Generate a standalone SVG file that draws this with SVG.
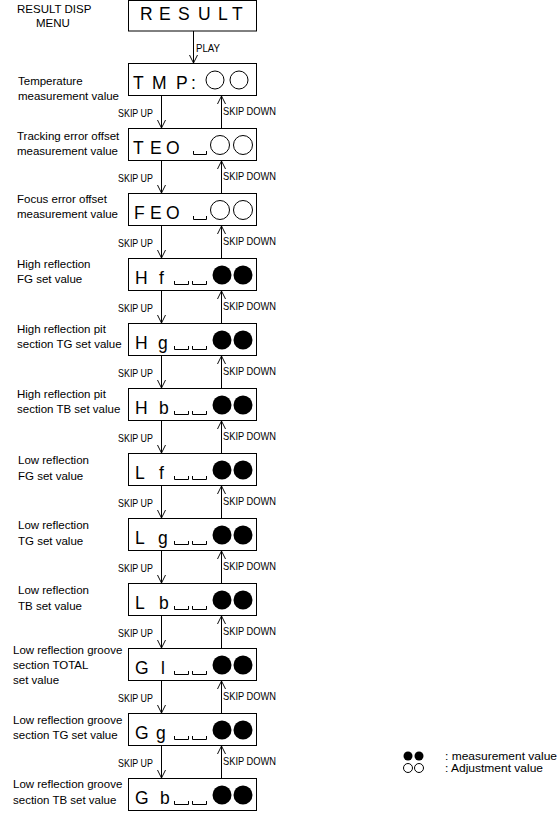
<svg xmlns="http://www.w3.org/2000/svg" width="558" height="819" viewBox="0 0 558 819">
<defs>
<style>
text{font-family:"Liberation Sans",Arial,sans-serif;fill:#000}
.lbl{font-size:11.5px}
.sk{font-size:11px}
.bx{font-size:17.5px}
.frame{fill:#fff;stroke:#000;stroke-width:1}
.br{fill:none;stroke:#000;stroke-width:1}
.oc{fill:#fff;stroke:#000;stroke-width:1}
.fc{fill:#000}
.ln{fill:none;stroke:#000;stroke-width:1;marker-end:url(#ah)}
</style>
<marker id="ah" viewBox="0 0 10 10" refX="10" refY="5" markerWidth="8" markerHeight="9" markerUnits="userSpaceOnUse" orient="auto">
<path d="M0,0 L10,5 L0,10" fill="none" stroke="#000" stroke-width="1.2"/>
</marker>
</defs>
<rect width="558" height="819" fill="#fff"/>

<g id="connectors">
<path class="ln" d="M193.5 31 V63"/>
<text class="sk" x="196" y="52" textLength="24" lengthAdjust="spacingAndGlyphs">PLAY</text>
<path class="ln" d="M161.5 96 V128"/><path class="ln" d="M221.5 128 V96"/>
<path class="ln" d="M161.5 161 V193"/><path class="ln" d="M221.5 193 V161"/>
<path class="ln" d="M161.5 226 V258"/><path class="ln" d="M221.5 258 V226"/>
<path class="ln" d="M161.5 291 V323"/><path class="ln" d="M221.5 323 V291"/>
<path class="ln" d="M161.5 356 V388"/><path class="ln" d="M221.5 388 V356"/>
<path class="ln" d="M161.5 421 V453"/><path class="ln" d="M221.5 453 V421"/>
<path class="ln" d="M161.5 486 V518"/><path class="ln" d="M221.5 518 V486"/>
<path class="ln" d="M161.5 551 V583"/><path class="ln" d="M221.5 583 V551"/>
<path class="ln" d="M161.5 616 V648"/><path class="ln" d="M221.5 648 V616"/>
<path class="ln" d="M161.5 681 V713"/><path class="ln" d="M221.5 713 V681"/>
<path class="ln" d="M161.5 746 V778"/><path class="ln" d="M221.5 778 V746"/>
<g class="sk">
<text x="118" y="117" textLength="35" lengthAdjust="spacingAndGlyphs">SKIP UP</text><text x="223" y="115" textLength="53" lengthAdjust="spacingAndGlyphs">SKIP DOWN</text>
<text x="118" y="182" textLength="35" lengthAdjust="spacingAndGlyphs">SKIP UP</text><text x="223" y="180" textLength="53" lengthAdjust="spacingAndGlyphs">SKIP DOWN</text>
<text x="118" y="247" textLength="35" lengthAdjust="spacingAndGlyphs">SKIP UP</text><text x="223" y="245" textLength="53" lengthAdjust="spacingAndGlyphs">SKIP DOWN</text>
<text x="118" y="312" textLength="35" lengthAdjust="spacingAndGlyphs">SKIP UP</text><text x="223" y="310" textLength="53" lengthAdjust="spacingAndGlyphs">SKIP DOWN</text>
<text x="118" y="377" textLength="35" lengthAdjust="spacingAndGlyphs">SKIP UP</text><text x="223" y="375" textLength="53" lengthAdjust="spacingAndGlyphs">SKIP DOWN</text>
<text x="118" y="442" textLength="35" lengthAdjust="spacingAndGlyphs">SKIP UP</text><text x="223" y="440" textLength="53" lengthAdjust="spacingAndGlyphs">SKIP DOWN</text>
<text x="118" y="507" textLength="35" lengthAdjust="spacingAndGlyphs">SKIP UP</text><text x="223" y="505" textLength="53" lengthAdjust="spacingAndGlyphs">SKIP DOWN</text>
<text x="118" y="572" textLength="35" lengthAdjust="spacingAndGlyphs">SKIP UP</text><text x="223" y="570" textLength="53" lengthAdjust="spacingAndGlyphs">SKIP DOWN</text>
<text x="118" y="637" textLength="35" lengthAdjust="spacingAndGlyphs">SKIP UP</text><text x="223" y="635" textLength="53" lengthAdjust="spacingAndGlyphs">SKIP DOWN</text>
<text x="118" y="702" textLength="35" lengthAdjust="spacingAndGlyphs">SKIP UP</text><text x="223" y="700" textLength="53" lengthAdjust="spacingAndGlyphs">SKIP DOWN</text>
<text x="118" y="767" textLength="35" lengthAdjust="spacingAndGlyphs">SKIP UP</text><text x="223" y="765" textLength="53" lengthAdjust="spacingAndGlyphs">SKIP DOWN</text>
</g>
</g>

<g id="result">
<rect class="frame" x="128.5" y="0.5" width="128" height="30.5"/>
<text class="bx" x="140 159 178 198 218 232" y="20">RESULT</text>
<text class="lbl" x="17" y="13">RESULT DISP</text>
<text class="lbl" x="36" y="27">MENU</text>
</g>

<g id="tmp">
<rect class="frame" x="128.5" y="63.5" width="128" height="32"/>
<text class="bx" x="133 152 176 191" y="89">TMP:</text>
<circle class="oc" cx="215" cy="80" r="9"/><circle class="oc" cx="239" cy="80" r="9"/>
<text class="lbl" x="18" y="85">Temperature</text>
<text class="lbl" x="18" y="100">measurement value</text>
</g>

<g id="teo">
<rect class="frame" x="128.5" y="128.5" width="128" height="32"/>
<text class="bx" x="133 150 166" y="154">TEO</text>
<path class="br" d="M193.5 151 V154.5 H206.5 V151"/>
<circle class="oc" cx="220" cy="145" r="9.5"/><circle class="oc" cx="243" cy="145" r="9.5"/>
<text class="lbl" x="17" y="140">Tracking error offset</text>
<text class="lbl" x="17" y="155">measurement value</text>
</g>

<g id="feo">
<rect class="frame" x="128.5" y="193.5" width="128" height="32"/>
<text class="bx" x="134 150 166" y="219">FEO</text>
<path class="br" d="M193.5 216 V219.5 H206.5 V216"/>
<circle class="oc" cx="220" cy="210" r="9.5"/><circle class="oc" cx="243" cy="210" r="9.5"/>
<text class="lbl" x="17" y="203">Focus error offset</text>
<text class="lbl" x="17" y="218">measurement value</text>
</g>

<g id="hf">
<rect class="frame" x="128.5" y="258.5" width="128" height="32"/>
<text class="bx" x="135 159" y="284">Hf</text>
<path class="br" d="M174.5 281 V284.5 H188.5 V281 M192.5 281 V284.5 H206.5 V281"/>
<circle class="fc" cx="222" cy="275" r="9.5"/><circle class="fc" cx="243" cy="275" r="9.5"/>
<text class="lbl" x="17" y="268">High reflection</text>
<text class="lbl" x="17" y="283">FG set value</text>
</g>

<g id="hg">
<rect class="frame" x="128.5" y="323.5" width="128" height="32"/>
<text class="bx" x="135 158" y="349">Hg</text>
<path class="br" d="M174.5 346 V349.5 H188.5 V346 M192.5 346 V349.5 H206.5 V346"/>
<circle class="fc" cx="222" cy="340" r="9.5"/><circle class="fc" cx="243" cy="340" r="9.5"/>
<text class="lbl" x="17" y="333">High reflection pit</text>
<text class="lbl" x="17" y="348">section TG set value</text>
</g>

<g id="hb">
<rect class="frame" x="128.5" y="388.5" width="128" height="32"/>
<text class="bx" x="135 159" y="414">Hb</text>
<path class="br" d="M174.5 411 V414.5 H188.5 V411 M192.5 411 V414.5 H206.5 V411"/>
<circle class="fc" cx="222" cy="405" r="9.5"/><circle class="fc" cx="243" cy="405" r="9.5"/>
<text class="lbl" x="17" y="398">High reflection pit</text>
<text class="lbl" x="17" y="413">section TB set value</text>
</g>

<g id="lf">
<rect class="frame" x="128.5" y="453.5" width="128" height="32"/>
<text class="bx" x="135 159" y="479">Lf</text>
<path class="br" d="M174.5 476 V479.5 H188.5 V476 M192.5 476 V479.5 H206.5 V476"/>
<circle class="fc" cx="222" cy="470" r="9.5"/><circle class="fc" cx="243" cy="470" r="9.5"/>
<text class="lbl" x="18" y="464">Low reflection</text>
<text class="lbl" x="18" y="480">FG set value</text>
</g>

<g id="lg">
<rect class="frame" x="128.5" y="518.5" width="128" height="32"/>
<text class="bx" x="135 158" y="544">Lg</text>
<path class="br" d="M174.5 541 V544.5 H188.5 V541 M192.5 541 V544.5 H206.5 V541"/>
<circle class="fc" cx="222" cy="535" r="9.5"/><circle class="fc" cx="243" cy="535" r="9.5"/>
<text class="lbl" x="18" y="529">Low reflection</text>
<text class="lbl" x="18" y="545">TG set value</text>
</g>

<g id="lb">
<rect class="frame" x="128.5" y="583.5" width="128" height="32"/>
<text class="bx" x="135 159" y="609">Lb</text>
<path class="br" d="M174.5 606 V609.5 H188.5 V606 M192.5 606 V609.5 H206.5 V606"/>
<circle class="fc" cx="222" cy="600" r="9.5"/><circle class="fc" cx="243" cy="600" r="9.5"/>
<text class="lbl" x="18" y="594">Low reflection</text>
<text class="lbl" x="18" y="610">TB set value</text>
</g>

<g id="gl">
<rect class="frame" x="128.5" y="648.5" width="128" height="32"/>
<text class="bx" x="135 161" y="674">Gl</text>
<path class="br" d="M174.5 671 V674.5 H188.5 V671 M192.5 671 V674.5 H206.5 V671"/>
<circle class="fc" cx="222" cy="665" r="9.5"/><circle class="fc" cx="243" cy="665" r="9.5"/>
<text class="lbl" x="13" y="654">Low reflection groove</text>
<text class="lbl" x="13" y="669">section TOTAL</text>
<text class="lbl" x="13" y="684">set value</text>
</g>

<g id="gg">
<rect class="frame" x="128.5" y="713.5" width="128" height="32"/>
<text class="bx" x="135 156" y="739">Gg</text>
<path class="br" d="M174.5 736 V739.5 H188.5 V736 M192.5 736 V739.5 H206.5 V736"/>
<circle class="fc" cx="222" cy="730" r="9.5"/><circle class="fc" cx="243" cy="730" r="9.5"/>
<text class="lbl" x="13" y="724">Low reflection groove</text>
<text class="lbl" x="13" y="739">section TG set value</text>
</g>

<g id="gb">
<rect class="frame" x="128.5" y="778.5" width="128" height="32"/>
<text class="bx" x="135 160" y="804">Gb</text>
<path class="br" d="M174.5 801 V804.5 H188.5 V801 M192.5 801 V804.5 H206.5 V801"/>
<circle class="fc" cx="222" cy="795" r="9.5"/><circle class="fc" cx="243" cy="795" r="9.5"/>
<text class="lbl" x="13" y="788">Low reflection groove</text>
<text class="lbl" x="13" y="804">section TB set value</text>
</g>

<g id="legend">
<circle class="fc" cx="408" cy="756" r="4.5"/><circle class="fc" cx="419" cy="756" r="4.5"/>
<circle class="oc" cx="408" cy="768" r="4.5"/><circle class="oc" cx="419" cy="768" r="4.5"/>
<text class="sk" x="445" y="760" textLength="112" lengthAdjust="spacingAndGlyphs">: measurement value</text>
<text class="sk" x="445" y="772" textLength="98" lengthAdjust="spacingAndGlyphs">: Adjustment value</text>
</g>
</svg>
